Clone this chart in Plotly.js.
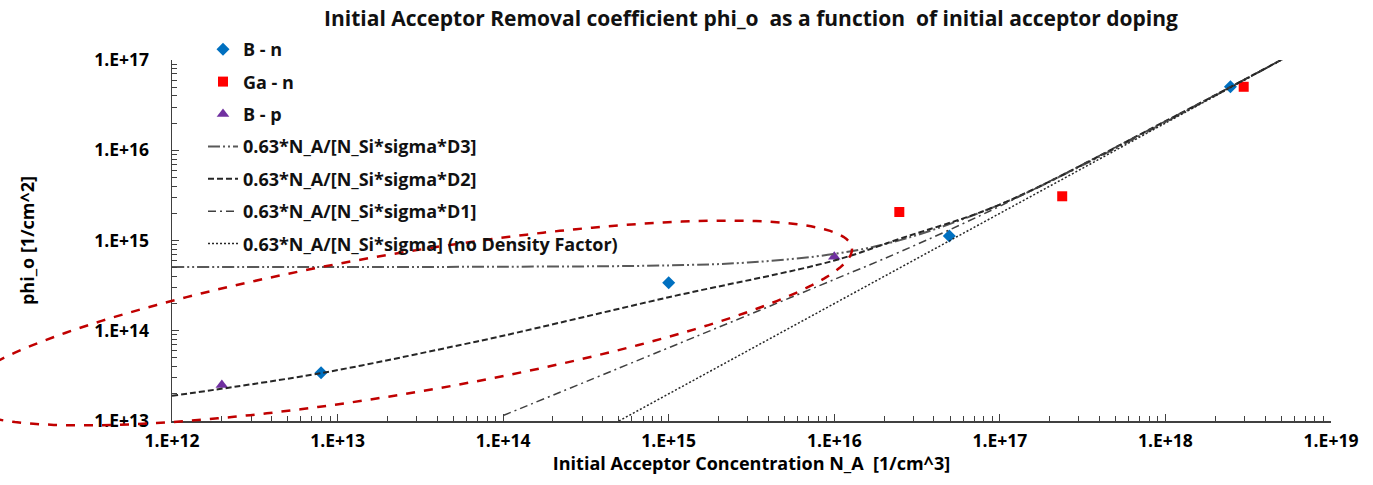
<!DOCTYPE html>
<html>
<head>
<meta charset="utf-8">
<script src="https://cdn.plot.ly/plotly-3.0.1.min.js"></script>
<style>html,body{margin:0;padding:0;background:#fff;}#chart{width:1373px;height:485px;}</style>
</head>
<body>
<div id="chart"></div>
<script>
// ---- data ----
const bnX = [7.95e12, 1.0e15, 4.95e16, 2.47e18];
const bnY = [3.43e13, 3.4e14, 1.12e15, 5.05e16];

const gaX = [2.47e16, 2.38e17, 2.97e18];
const gaY = [2.07e15, 3.09e15, 5.05e16];

const bpX = [2.0e12, 1.0e16];
const bpY = [2.5e13, 6.6e14];

const d3X = [1e12, 1e13, 1e14, 1e15, 3e15, 1e16, 2.5e16, 1e17, 3e17, 1e18, 5.5e18];
const d3Y = [5.1e14, 5.1e14, 5.12e14, 5.3e14, 5.7e14, 7.1e14, 1.01e15, 2.5e15, 6.5e15, 2.05e16, 1.1e17];

const d2X = [1e12, 8e12, 5e13, 1e14, 1e15, 1e16, 2.5e16, 1e17, 1e18, 5.5e18];
const d2Y = [1.9e13, 3.4e13, 6.7e13, 8.8e13, 2.35e14, 6.0e14, 1.05e15, 2.5e15, 2.1e16, 1.1e17];

const d1X = [1e14, 1.5e15, 1e16, 2.5e16, 1e17, 1e18, 5.5e18];
const d1Y = [1.15e13, 8.8e13, 3.7e14, 7.5e14, 2.4e15, 2.1e16, 1.1e17];

const d0X = [5e14, 1e16, 1e17, 1e18, 5.5e18];
const d0Y = [1e13, 2e14, 2e15, 2e16, 1.1e17];

const seriesNames = ['B - n', 'Ga - n', 'B - p',
  '0.63*N_A/[N_Si*sigma*D3]', '0.63*N_A/[N_Si*sigma*D2]',
  '0.63*N_A/[N_Si*sigma*D1]', '0.63*N_A/[N_Si*sigma] (no Density Factor)'];

const xTickVals = [1e12, 1e13, 1e14, 1e15, 1e16, 1e17, 1e18, 1e19];
const xTickText = ['1.E+12', '1.E+13', '1.E+14', '1.E+15', '1.E+16', '1.E+17', '1.E+18', '1.E+19'];
const yTickVals = [1e13, 1e14, 1e15, 1e16, 1e17];
const yTickText = ['1.E+13', '1.E+14', '1.E+15', '1.E+16', '1.E+17'];

// ---- chart ----
const FONT = '"Open Sans", Lato, sans-serif';
const traces = [
  {x: bnX, y: bnY, name: seriesNames[0], mode: 'markers', legendgroup: 'g0',
   marker: {symbol: 'diamond', size: 10, color: '#0070C0'}},
  {x: gaX, y: gaY, name: seriesNames[1], mode: 'markers', legendgroup: 'g1',
   marker: {symbol: 'square', size: 10, color: '#FF0000'}},
  {x: bpX, y: bpY, name: seriesNames[2], mode: 'markers', legendgroup: 'g2',
   marker: {symbol: 'triangle-up', size: 11, color: '#7030A0'}},
  {x: d3X, y: d3Y, name: seriesNames[3], mode: 'lines', legendgroup: 'g3',
   line: {color: '#595959', width: 2, dash: '12px,3px,2px,3px,2px,3px', shape: 'spline'}},
  {x: d2X, y: d2Y, name: seriesNames[4], mode: 'lines', legendgroup: 'g4',
   line: {color: '#262626', width: 2, dash: '6px,3px', shape: 'spline'}},
  {x: d1X, y: d1Y, name: seriesNames[5], mode: 'lines', legendgroup: 'g5',
   line: {color: '#404040', width: 1.5, dash: '8px,4px,2px,4px', shape: 'spline'}},
  {x: d0X, y: d0Y, name: seriesNames[6], mode: 'lines', legendgroup: 'g6',
   line: {color: '#262626', width: 1.5, dash: '2px,2px'}}
];

// red highlight ellipse (annotation shape, pixel geometry -> paper coordinates)
const L = 172, R = 1331, T = 60, B = 421;
function ellipsePath(cx, cy, W, H, slope) {
  let p = '';
  for (let i = 0; i <= 160; i++) {
    const t = 2 * Math.PI * i / 160;
    const px = cx + W * Math.cos(t);
    const py = cy + slope * W * Math.cos(t) + H * Math.sin(t);
    const xp = (px - L) / (R - L), yp = (B - py) / (B - T);
    p += (i === 0 ? 'M' : 'L') + xp.toFixed(5) + ',' + yp.toFixed(5);
  }
  return p + 'Z';
}

const layout = {
  width: 1373, height: 485,
  margin: {l: L, r: 1373 - R, t: T, b: 485 - B},
  paper_bgcolor: '#ffffff', plot_bgcolor: '#ffffff',
  font: {family: FONT, color: '#000000', weight: 'bold'},
  title: {text: 'Initial Acceptor Removal coefficient phi_o  as a function  of initial acceptor doping',
          font: {family: FONT, size: 21, color: '#111', weight: 'bold'},
          xref: 'container', x: 751 / 1373, xanchor: 'center',
          yref: 'container', y: 1 - 19 / 485, yanchor: 'middle'},
  xaxis: {type: 'log', range: [12, 19], tickmode: 'array', tickvals: xTickVals, ticktext: xTickText,
          ticks: 'inside', ticklen: 7, tickwidth: 1.2, tickcolor: '#404040',
          showline: true, linecolor: '#404040', linewidth: 1.5, showgrid: false, zeroline: false,
          tickfont: {family: FONT, size: 17.5, color: '#000', weight: 'bold'}, ticklabelstandoff: 3,
          minor: {ticks: 'inside', ticklen: 5, tickwidth: 1, tickcolor: '#404040', dtick: 'D1', showgrid: false},
          title: {text: 'Initial Acceptor Concentration N_A  [1/cm^3]', standoff: 7,
                  font: {family: FONT, size: 18, color: '#000', weight: 'bold'}}},
  yaxis: {type: 'log', range: [13, 17], tickmode: 'array', tickvals: yTickVals, ticktext: yTickText,
          ticks: 'inside', ticklen: 7, tickwidth: 1.2, tickcolor: '#404040',
          showline: true, linecolor: '#404040', linewidth: 1.5, showgrid: false, zeroline: false,
          tickfont: {family: FONT, size: 17.5, color: '#000', weight: 'bold'}, ticklabelstandoff: 18,
          minor: {ticks: 'inside', ticklen: 5, tickwidth: 1, tickcolor: '#404040', dtick: 'D1', showgrid: false},
          title: {text: 'phi_o [1/cm^2]', standoff: 55,
                  font: {family: FONT, size: 18, color: '#000', weight: 'bold'}}},
  showlegend: true,
  legend: {x: (203 - L) / (R - L), xanchor: 'left', y: (B - 31) / (B - T), yanchor: 'top',
           bgcolor: 'rgba(0,0,0,0)', font: {family: FONT, size: 18, color: '#111', weight: 'bold'},
           tracegroupgap: 6, itemwidth: 30, traceorder: 'grouped'},
  shapes: [{type: 'path', xref: 'paper', yref: 'paper', path: ellipsePath(405, 323, 447, 71, -0.165),
            line: {color: '#C00000', width: 2.5, dash: 'dash'}, layer: 'above'}]
};

Plotly.newPlot('chart', traces, layout, {displayModeBar: false, staticPlot: true});
</script>
</body>
</html>
